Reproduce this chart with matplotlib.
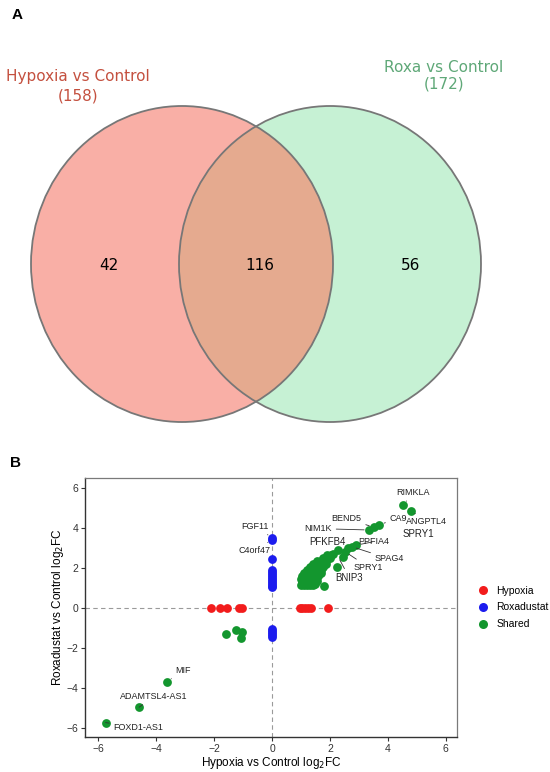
import matplotlib
matplotlib.use("Agg")
import matplotlib.pyplot as plt
from matplotlib.patches import Ellipse
from matplotlib.lines import Line2D

# ---- data ----
venn_counts = [42, 116, 56]          # only hypoxia, shared, only roxa
venn_names = ["Hypoxia vs Control", "Roxa vs Control"]
venn_totals = [158, 172]

hyp_x = [-2.1, -1.8, -1.55, -1.15, -1.05, 0.95, 1.05, 1.15, 1.25, 1.35, 1.95]
hyp_y = [0, 0, 0, 0, 0, 0, 0, 0, 0, 0, 0]

roxa_x = [0, 0, 0, 0, 0, 0, 0, 0, 0, 0, 0, 0, 0, 0, 0, 0, 0, 0]
roxa_y = [3.5, 3.38, 2.42, 1.9, 1.8, 1.7, 1.6, 1.5, 1.4, 1.3, 1.2, 1.1, 1.05,
          -1.05, -1.15, -1.25, -1.35, -1.45]

shared_x = [-5.75, -4.59, -3.62, -1.59, -1.24, -1.05, -1.07,
            1.0, 1.1, 1.2, 1.3, 1.4, 1.5,
            1.05, 1.15, 1.25, 1.35, 1.45, 1.55,
            1.0, 1.1, 1.2, 1.3, 1.4, 1.5,
            1.05, 1.15, 1.25, 1.35, 1.45, 1.6,
            1.1, 1.2, 1.3, 1.45, 1.55, 1.7,
            1.2, 1.3, 1.4, 1.55, 1.7,
            1.3, 1.45, 1.6, 1.75,
            1.4, 1.55, 1.7, 1.85,
            1.55, 1.7, 1.85,
            1.75, 1.9, 2.0,
            1.9, 2.05,
            1.78, 2.26, 2.12, 2.28, 2.44, 2.52, 2.64, 2.75, 2.9,
            3.35, 3.52, 3.71, 4.54, 4.8]
shared_y = [-5.75, -4.98, -3.7, -1.32, -1.12, -1.23, -1.53,
            1.15, 1.15, 1.15, 1.15, 1.15, 1.2,
            1.3, 1.3, 1.3, 1.3, 1.3, 1.35,
            1.45, 1.45, 1.45, 1.45, 1.45, 1.5,
            1.6, 1.6, 1.6, 1.6, 1.6, 1.6,
            1.75, 1.75, 1.75, 1.75, 1.75, 1.75,
            1.9, 1.9, 1.9, 1.9, 1.9,
            2.05, 2.05, 2.05, 2.05,
            2.2, 2.2, 2.2, 2.2,
            2.35, 2.35, 2.35,
            2.5, 2.5, 2.5,
            2.65, 2.65,
            1.07, 2.05, 2.68, 2.88, 2.55, 2.8, 2.97, 3.05, 3.12,
            3.88, 4.02, 4.15, 5.13, 4.85]

# gene labels: name, point x, point y, label x, label y, draw segment
gene_names = ["RIMKLA", "ANGPTL4", "SPRY1", "CA9", "BEND5", "NIM1K", "PFKFB4",
              "PPFIA4", "SPAG4", "SPRY1", "BNIP3", "FGF11", "C4orf47",
              "MIF", "ADAMTSL4-AS1", "FOXD1-AS1"]
gene_px = [4.54, 4.8, 4.8, 3.71, 3.52, 3.35, 2.64, 2.9, 2.75, 2.52, 2.26,
           0, 0, -3.62, -4.59, -5.75]
gene_py = [5.13, 4.85, 4.85, 4.15, 4.02, 3.88, 2.97, 3.12, 3.05, 2.8, 2.6,
           3.5, 3.38, -3.7, -4.98, -5.75]
gene_tx = [4.88, 5.34, 5.06, 4.36, 2.58, 1.6, 1.91, 3.5, 4.05, 3.33, 2.67,
           -0.58, -0.61, -3.08, -4.08, -4.62]
gene_ty = [5.75, 4.29, 3.67, 4.45, 4.44, 3.95, 3.29, 3.29, 2.44, 2.02, 1.5,
           4.05, 2.85, -3.15, -4.45, -5.98]
gene_seg = [True, True, False, True, True, True, False, True, True, True, True,
            True, True, True, True, True]
gene_fs = [6.5, 6.5, 7, 6.5, 6.5, 6.5, 7, 6.5, 6.5, 6.5, 7,
           6.5, 6.5, 6.5, 6.5, 6.5]

xticks = [-6, -4, -2, 0, 2, 4, 6]
yticks = [-6, -4, -2, 0, 2, 4, 6]

fig = plt.figure(figsize=(5.5, 7.72), dpi=100)

# ---- panel A: venn ----
va = fig.add_axes([0, 1 - 460 / 772, 1, 460 / 772])
va.set_xlim(0, 550)
va.set_ylim(460, 0)
va.axis("off")

left = Ellipse((182, 264), 302, 316, facecolor="#F9AFA6", edgecolor="none")
right = Ellipse((330, 264), 302, 316, facecolor="#C6F1D4", edgecolor="none")
va.add_patch(left)
va.add_patch(right)
mid = Ellipse((330, 264), 302, 316, facecolor="#E5AA8F", edgecolor="none")
va.add_patch(mid)
mid.set_clip_path(left)
for cx in (182, 330):
    va.add_patch(Ellipse((cx, 264), 302, 316, facecolor="none",
                         edgecolor="#777777", lw=1.3))

for xpos, n in zip((109, 260, 411), venn_counts):
    va.text(xpos, 266, str(n), ha="center", va="center", fontsize=11,
            color="black", family="DejaVu Sans")

va.text(78, 76, venn_names[0], ha="center", va="center", fontsize=11,
        color="#C4503F", family="DejaVu Sans")
va.text(78, 96, "(%d)" % venn_totals[0], ha="center", va="center", fontsize=11,
        color="#C4503F", family="DejaVu Sans")
va.text(444, 68, venn_names[1], ha="center", va="center", fontsize=11,
        color="#5FA878", family="DejaVu Sans")
va.text(444, 84, "(%d)" % venn_totals[1], ha="center", va="center", fontsize=11,
        color="#5FA878", family="DejaVu Sans")

fig.text(12 / 550, 1 - 15 / 772, "A", fontsize=11, fontweight="bold",
         family="Liberation Sans", ha="left", va="center")
fig.text(10 / 550, 1 - 463 / 772, "B", fontsize=11, fontweight="bold",
         family="Liberation Sans", ha="left", va="center")

# ---- panel B: scatter ----
ax = fig.add_axes([85 / 550, 1 - 737 / 772, 372 / 550, 259 / 772])
ax.axhline(0, color="#9a9a9a", lw=0.8, ls=(0, (4, 3)), zorder=1)
ax.axvline(0, color="#9a9a9a", lw=0.8, ls=(0, (4, 3)), zorder=1)

ms = 40
ax.scatter(hyp_x, hyp_y, s=ms, color="#F21C1C", zorder=3, label="Hypoxia",
           linewidths=0)
ax.scatter(roxa_x, roxa_y, s=ms, color="#1C1CEE", zorder=3, label="Roxadustat",
           linewidths=0)
ax.scatter(shared_x, shared_y, s=ms, color="#13962E", zorder=3, label="Shared",
           linewidths=0)

for name, px, py, tx, ty, seg, fs in zip(gene_names, gene_px, gene_py, gene_tx,
                                          gene_ty, gene_seg, gene_fs):
    if seg:
        ax.annotate(name, xy=(px, py), xytext=(tx, ty), ha="center", va="center",
                    fontsize=fs, family="Liberation Sans", color="#222222",
                    arrowprops=dict(arrowstyle="-", color="#333333", lw=0.6,
                                    shrinkA=1, shrinkB=3.5), zorder=4)
    else:
        ax.text(tx, ty, name, ha="center", va="center", fontsize=fs,
                family="Liberation Sans", color="#222222", zorder=4)

ax.set_xlim(-6.46, 6.39)
ax.set_ylim(-6.47, 6.48)
ax.set_xticks(xticks)
ax.set_yticks(yticks)
ax.set_xticklabels([str(t).replace("-", "\u2212") for t in xticks])
ax.set_yticklabels([str(t).replace("-", "\u2212") for t in yticks])
ax.tick_params(labelsize=7.5, length=3, width=0.8, pad=2, colors="#333333",
               labelcolor="#333333")
for lab in ax.get_xticklabels() + ax.get_yticklabels():
    lab.set_family("Liberation Sans")
for side in ("top", "right"):
    ax.spines[side].set_color("#7a7a7a")
    ax.spines[side].set_linewidth(0.9)
for side in ("left", "bottom"):
    ax.spines[side].set_color("#333333")
    ax.spines[side].set_linewidth(1.0)

ax.set_xlabel("Hypoxia vs Control log$_2$FC", fontsize=8.5,
              family="Liberation Sans", labelpad=1)
ax.set_ylabel("Roxadustat vs Control log$_2$FC", fontsize=8.5,
              family="Liberation Sans", labelpad=0)

handles = [Line2D([], [], marker="o", ls="", markersize=6.5, color=c,
                  markeredgewidth=0)
           for c in ("#F21C1C", "#1C1CEE", "#13962E")]
leg = ax.legend(handles, ["Hypoxia", "Roxadustat", "Shared"], loc="center left",
                bbox_to_anchor=(1.03, 0.5), frameon=False,
                handletextpad=0.3, labelspacing=0.65, borderaxespad=0,
                prop={"family": "Liberation Sans", "size": 7.5})

fig.savefig("out.png", dpi=100)
